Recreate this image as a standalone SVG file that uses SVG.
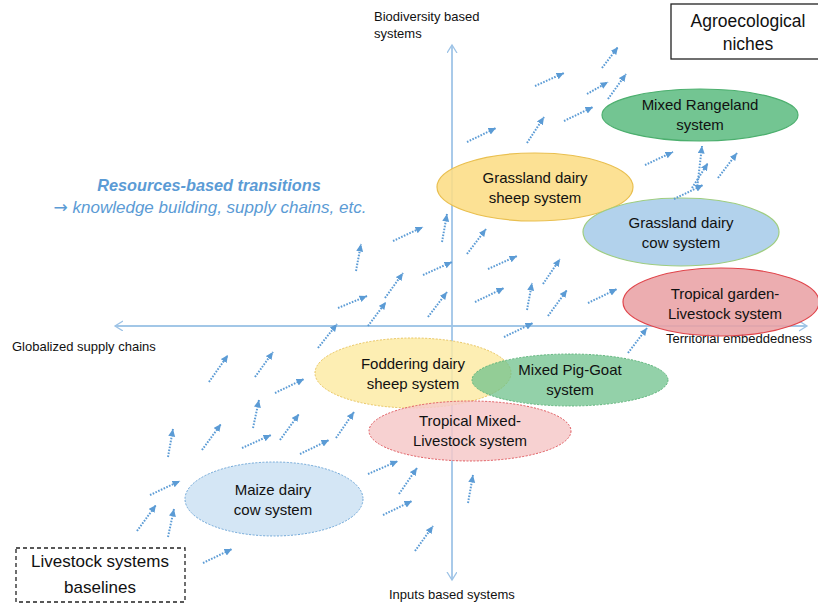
<svg xmlns="http://www.w3.org/2000/svg" width="818" height="604" viewBox="0 0 818 604">
<defs>
<style>
.t{font-family:"Liberation Sans",Arial,sans-serif;fill:#111;text-anchor:middle}
.n{font-size:15px}
.ax{font-family:"Liberation Sans",Arial,sans-serif;font-size:13px;fill:#111}
.axis{stroke:#9dc3e6;stroke-width:1.3;fill:none}
.da line{stroke:#5b9bd5;stroke-width:2;stroke-dasharray:1.6 1.4;marker-end:url(#ah)}
.blue{font-family:"Liberation Sans",Arial,sans-serif;fill:#5b9bd5;font-style:italic;text-anchor:middle}
</style>
<marker id="ah" markerUnits="userSpaceOnUse" markerWidth="10" markerHeight="9" refX="7.5" refY="3.5" orient="auto">
<path d="M0,0 L7.5,3.5 L0,7 z" fill="#5b9bd5"/>
</marker>
<marker id="ax" markerUnits="userSpaceOnUse" markerWidth="10" markerHeight="12" refX="8" refY="5" orient="auto">
<path d="M0,0 L8,5 L0,10" fill="none" stroke="#9dc3e6" stroke-width="1.3"/>
</marker>
</defs>
<rect width="818" height="604" fill="#fff"/>

<g id="axes">
<line class="axis" x1="452" y1="580" x2="452" y2="45" marker-end="url(#ax)"/>
<line class="axis" x1="452" y1="45" x2="452" y2="580" marker-end="url(#ax)"/>
<line class="axis" x1="807" y1="326" x2="115" y2="326" marker-end="url(#ax)"/>
<line class="axis" x1="115" y1="326" x2="807" y2="326" marker-end="url(#ax)"/>
<text class="ax" x="374" y="21">Biodiversity based</text>
<text class="ax" x="374" y="38">systems</text>
<text class="ax" x="389" y="599">Inputs based systems</text>
<text class="ax" x="12" y="351">Globalized supply chains</text>
<text class="ax" x="666" y="343">Territorial embeddedness</text>
</g>

<g id="title">
<text class="blue" x="209" y="191" font-size="16.3" font-weight="bold">Resources-based transitions</text>
<text class="blue" x="210" y="213" font-size="17"><tspan font-family="'DejaVu Sans',sans-serif" font-style="normal">→</tspan> knowledge building, supply chains, etc.</text>
</g>

<g id="agroecological-niches">
<rect x="671" y="4" width="152" height="55" fill="#fff" stroke="#222" stroke-width="1.3"/>
<text class="t" x="748" y="27" font-size="17.5">Agroecological</text>
<text class="t" x="748" y="50" font-size="17.5">niches</text>
</g>

<g id="livestock-baselines">
<rect x="16" y="548" width="169" height="54" fill="#fff" stroke="#222" stroke-width="1.3" stroke-dasharray="4 3"/>
<text class="t" x="100" y="567" font-size="17">Livestock systems</text>
<text class="t" x="100" y="593" font-size="17">baselines</text>
</g>

<g id="mixed-rangeland">
<ellipse cx="700" cy="115" rx="98" ry="26" fill="#6cc28c" stroke="#4caf6e" stroke-width="1.2" fill-opacity="0.95"/>
<text class="t n" x="700" y="110">Mixed Rangeland</text>
<text class="t n" x="700" y="130">system</text>
</g>

<g id="grassland-dairy-sheep">
<ellipse cx="535" cy="187" rx="98" ry="34" fill="#fcdd85" stroke="#e9bf4f" stroke-width="1.2" fill-opacity="0.88"/>
<text class="t n" x="535" y="183">Grassland dairy</text>
<text class="t n" x="535" y="203">sheep system</text>
</g>

<g id="grassland-dairy-cow">
<ellipse cx="681" cy="232" rx="98" ry="34" fill="#aed0eb" stroke="#9fcd80" stroke-width="1.2" fill-opacity="0.95"/>
<text class="t n" x="681" y="228">Grassland dairy</text>
<text class="t n" x="681" y="248">cow system</text>
</g>

<g id="tropical-garden">
<ellipse cx="721" cy="302" rx="98" ry="34" fill="#e9a2a5" stroke="#e0454b" stroke-width="1.2" fill-opacity="0.88"/>
<text class="t n" x="725" y="299">Tropical garden-</text>
<text class="t n" x="725" y="319">Livestock system</text>
</g>

<g id="foddering-dairy-sheep">
<ellipse cx="413" cy="373" rx="98" ry="35" fill="#fdeba6" stroke="#e8c35a" stroke-width="1" stroke-dasharray="2 1.5" fill-opacity="0.85"/>
<text class="t n" x="413" y="369">Foddering dairy</text>
<text class="t n" x="413" y="389">sheep system</text>
</g>

<g id="mixed-pig-goat">
<ellipse cx="570" cy="380" rx="98" ry="26" fill="#6fc18c" stroke="#5db47a" stroke-width="1" stroke-dasharray="2 1.5" fill-opacity="0.75"/>
<text class="t n" x="570" y="375">Mixed Pig-Goat</text>
<text class="t n" x="570" y="395">system</text>
</g>

<g id="tropical-mixed-livestock">
<ellipse cx="470" cy="431" rx="101" ry="30" fill="#f6c9c9" stroke="#e05a5f" stroke-width="1" stroke-dasharray="2 1.5" fill-opacity="0.85"/>
<text class="t n" x="470" y="426">Tropical Mixed-</text>
<text class="t n" x="470" y="446">Livestock system</text>
</g>

<g id="maize-dairy-cow">
<ellipse cx="274" cy="499" rx="89" ry="37" fill="#d4e6f5" stroke="#6fa7d8" stroke-width="1" stroke-dasharray="2 1.5"/>
<text class="t n" x="273" y="495">Maize dairy</text>
<text class="t n" x="273" y="515">cow system</text>
</g>

<g id="connectors" class="da">
<line x1="356" y1="271" x2="361" y2="244"/>
<line x1="393" y1="241" x2="423" y2="227"/>
<line x1="385" y1="298" x2="403" y2="273"/>
<line x1="338" y1="308" x2="367" y2="296"/>
<line x1="442" y1="242" x2="447" y2="214"/>
<line x1="467" y1="254" x2="486" y2="229"/>
<line x1="423" y1="275" x2="452" y2="262"/>
<line x1="368" y1="326" x2="386" y2="302"/>
<line x1="428" y1="317" x2="447" y2="292"/>
<line x1="488" y1="269" x2="517" y2="256"/>
<line x1="475" y1="302" x2="504" y2="288"/>
<line x1="527" y1="310" x2="532" y2="283"/>
<line x1="543" y1="284" x2="560" y2="259"/>
<line x1="548" y1="316" x2="567" y2="290"/>
<line x1="588" y1="303" x2="617" y2="289"/>
<line x1="504" y1="337" x2="533" y2="323"/>
<line x1="318" y1="348" x2="337" y2="324"/>
<line x1="628" y1="353" x2="647" y2="328"/>
<line x1="535" y1="86" x2="564" y2="73"/>
<line x1="602" y1="68" x2="618" y2="47"/>
<line x1="587" y1="94" x2="608" y2="82"/>
<line x1="608" y1="99" x2="626" y2="74"/>
<line x1="564" y1="121" x2="593" y2="107"/>
<line x1="467" y1="142" x2="496" y2="128"/>
<line x1="527" y1="143" x2="544" y2="117"/>
<line x1="645" y1="165" x2="673" y2="152"/>
<line x1="697" y1="189" x2="702" y2="146"/>
<line x1="692" y1="188" x2="708" y2="163"/>
<line x1="674" y1="199" x2="703" y2="185"/>
<line x1="718" y1="178" x2="737" y2="153"/>
<line x1="209" y1="382" x2="228" y2="355"/>
<line x1="255" y1="377" x2="273" y2="352"/>
<line x1="275" y1="393" x2="304" y2="379"/>
<line x1="253" y1="428" x2="259" y2="400"/>
<line x1="202" y1="450" x2="221" y2="424"/>
<line x1="168" y1="457" x2="173" y2="429"/>
<line x1="242" y1="448" x2="271" y2="435"/>
<line x1="280" y1="440" x2="299" y2="414"/>
<line x1="300" y1="454" x2="329" y2="440"/>
<line x1="336" y1="438" x2="354" y2="412"/>
<line x1="150" y1="495" x2="180" y2="481"/>
<line x1="137" y1="531" x2="156" y2="505"/>
<line x1="168" y1="537" x2="174" y2="509"/>
<line x1="203" y1="563" x2="232" y2="549"/>
<line x1="368" y1="474" x2="398" y2="461"/>
<line x1="399" y1="494" x2="417" y2="468"/>
<line x1="383" y1="515" x2="412" y2="501"/>
<line x1="415" y1="551" x2="433" y2="526"/>
<line x1="468" y1="503" x2="473" y2="475"/>
</g>
</svg>
